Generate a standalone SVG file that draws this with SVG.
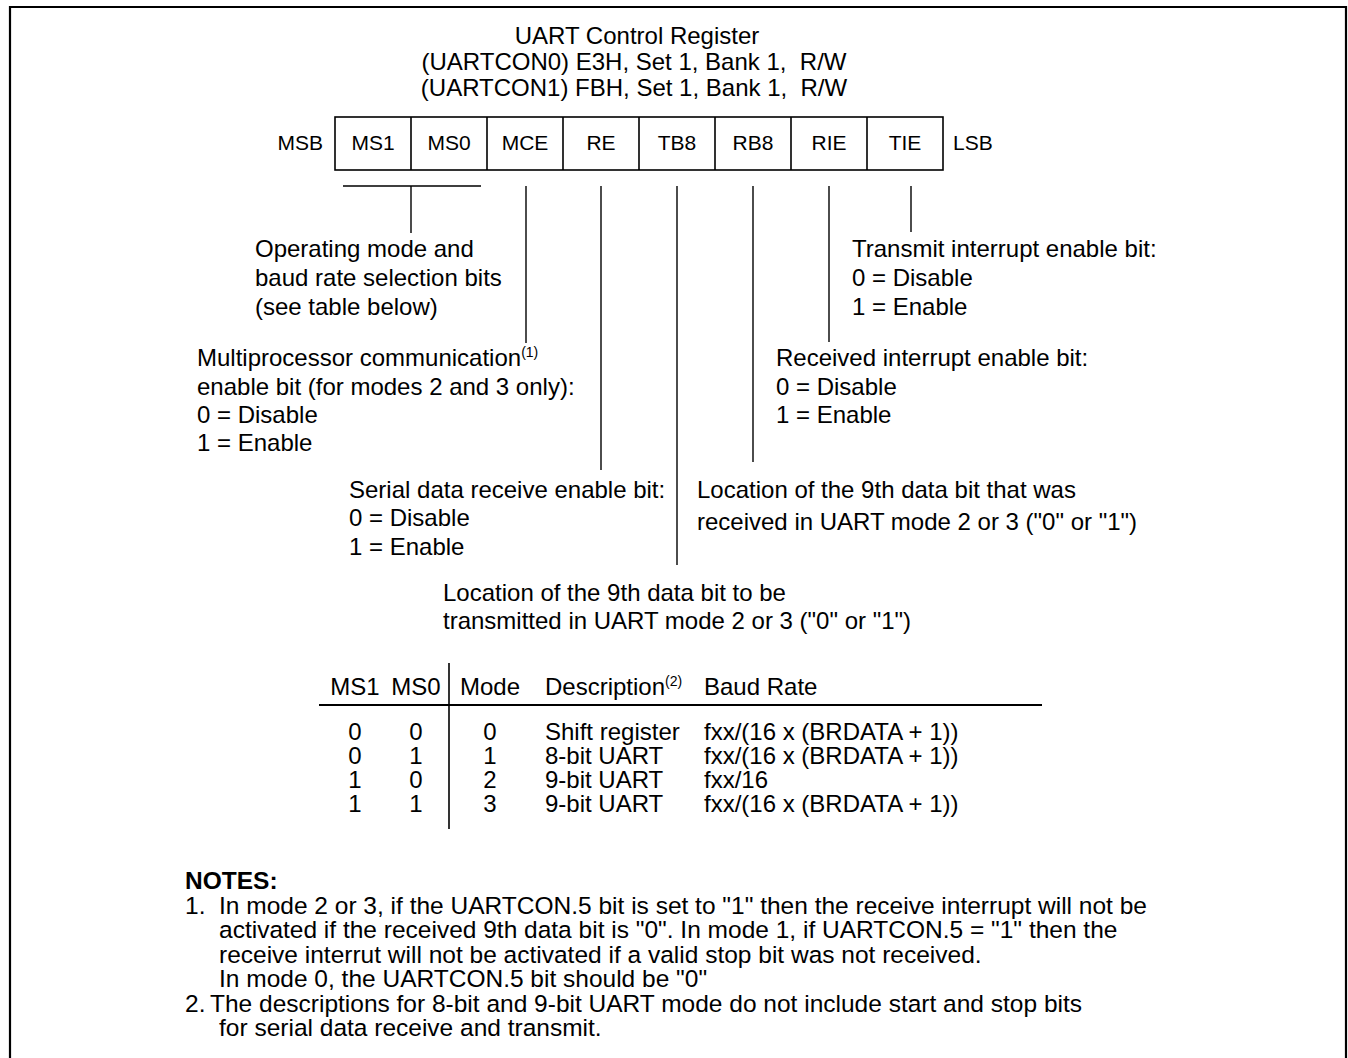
<svg xmlns="http://www.w3.org/2000/svg" width="1348" height="1058" viewBox="0 0 1348 1058">
<style>
text{font-family:"Liberation Sans",Arial,sans-serif;fill:#000}
.t{font-size:24px}
.c{font-size:21px}
.n{font-size:24.5px}
.m{text-anchor:middle}
.e{text-anchor:end}
.sup{font-size:14px}
.ln{stroke:#000;stroke-width:1.4;fill:none}
.bx{stroke:#000;stroke-width:1.6;fill:none}
</style>
<rect width="1348" height="1058" fill="#fff"/>
<g id="frame"><path d="M10,1058 V7 H1346 V1058" fill="none" stroke="#000" stroke-width="2.2"/></g>
<g id="title">
<text class="t m" x="637" y="44">UART Control Register</text>
<text class="t m" x="634" y="70" xml:space="preserve">(UARTCON0) E3H, Set 1, Bank 1,  R/W</text>
<text class="t m" x="634" y="96" xml:space="preserve">(UARTCON1) FBH, Set 1, Bank 1,  R/W</text>
</g>
<g id="register">
<rect class="bx" x="335" y="117" width="608" height="53"/>
<path class="bx" d="M411,117V170M487,117V170M563,117V170M639,117V170M715,117V170M791,117V170M867,117V170"/>
<text class="c e" x="323" y="150">MSB</text>
<text class="c" x="953" y="150">LSB</text>
<text class="c m" x="373" y="150">MS1</text>
<text class="c m" x="449" y="150">MS0</text>
<text class="c m" x="525" y="150">MCE</text>
<text class="c m" x="601" y="150">RE</text>
<text class="c m" x="677" y="150">TB8</text>
<text class="c m" x="753" y="150">RB8</text>
<text class="c m" x="829" y="150">RIE</text>
<text class="c m" x="905" y="150">TIE</text>
</g>
<g id="connectors">
<path class="ln" d="M343,186H481M411,186V233"/>
<path class="ln" d="M526,186V343"/>
<path class="ln" d="M601,186V470"/>
<path class="ln" d="M677,186V565"/>
<path class="ln" d="M753,186V462"/>
<path class="ln" d="M829,186V342"/>
<path class="ln" d="M911,186V232"/>
</g>
<g id="ms-desc">
<text class="t" x="255" y="257">Operating mode and</text>
<text class="t" x="255" y="286">baud rate selection bits</text>
<text class="t" x="255" y="315">(see table below)</text>
</g>
<g id="mce-desc">
<text class="t" x="197" y="366">Multiprocessor communication<tspan class="sup" dy="-9">(1)</tspan></text>
<text class="t" x="197" y="395">enable bit (for modes 2 and 3 only):</text>
<text class="t" x="197" y="423">0 = Disable</text>
<text class="t" x="197" y="451">1 = Enable</text>
</g>
<g id="tie-desc">
<text class="t" x="852" y="257">Transmit interrupt enable bit:</text>
<text class="t" x="852" y="286">0 = Disable</text>
<text class="t" x="852" y="315">1 = Enable</text>
</g>
<g id="rie-desc">
<text class="t" x="776" y="366">Received interrupt enable bit:</text>
<text class="t" x="776" y="395">0 = Disable</text>
<text class="t" x="776" y="423">1 = Enable</text>
</g>
<g id="re-desc">
<text class="t" x="349" y="498">Serial data receive enable bit:</text>
<text class="t" x="349" y="526">0 = Disable</text>
<text class="t" x="349" y="555">1 = Enable</text>
</g>
<g id="rb8-desc">
<text class="t" x="697" y="498">Location of the 9th data bit that was</text>
<text class="t" x="697" y="530">received in UART mode 2 or 3 ("0" or "1")</text>
</g>
<g id="tb8-desc">
<text class="t" x="443" y="601">Location of the 9th data bit to be</text>
<text class="t" x="443" y="629">transmitted in UART mode 2 or 3 ("0" or "1")</text>
</g>
<g id="table">
<path d="M449,663V829" stroke="#000" stroke-width="1.6"/>
<path d="M319,705H1042" stroke="#000" stroke-width="2.2"/>
<text class="t m" x="355" y="695">MS1</text>
<text class="t m" x="416" y="695">MS0</text>
<text class="t m" x="490" y="695">Mode</text>
<text class="t" x="545" y="695">Description<tspan class="sup" dy="-9">(2)</tspan></text>
<text class="t" x="704" y="695">Baud Rate</text>
<text class="t m" x="355" y="740">0</text><text class="t m" x="416" y="740">0</text><text class="t m" x="490" y="740">0</text>
<text class="t m" x="355" y="764">0</text><text class="t m" x="416" y="764">1</text><text class="t m" x="490" y="764">1</text>
<text class="t m" x="355" y="788">1</text><text class="t m" x="416" y="788">0</text><text class="t m" x="490" y="788">2</text>
<text class="t m" x="355" y="812">1</text><text class="t m" x="416" y="812">1</text><text class="t m" x="490" y="812">3</text>
<text class="t" x="545" y="740">Shift register</text>
<text class="t" x="545" y="764">8-bit UART</text>
<text class="t" x="545" y="788">9-bit UART</text>
<text class="t" x="545" y="812">9-bit UART</text>
<text class="t" x="704" y="740">fxx/(16 x (BRDATA + 1))</text>
<text class="t" x="704" y="764">fxx/(16 x (BRDATA + 1))</text>
<text class="t" x="704" y="788">fxx/16</text>
<text class="t" x="704" y="812">fxx/(16 x (BRDATA + 1))</text>
</g>
<g id="notes">
<text class="n" x="185" y="889" font-weight="bold">NOTES:</text>
<text class="n" x="185" y="914">1.</text>
<text class="n" x="219" y="914">In mode 2 or 3, if the UARTCON.5 bit is set to "1" then the receive interrupt will not be</text>
<text class="n" x="219" y="938">activated if the received 9th data bit is "0". In mode 1, if UARTCON.5 = "1" then the</text>
<text class="n" x="219" y="963">receive interrut will not be activated if a valid stop bit was not received.</text>
<text class="n" x="219" y="987">In mode 0, the UARTCON.5 bit should be "0"</text>
<text class="n" x="185" y="1012">2.</text>
<text class="n" x="210" y="1012">The descriptions for 8-bit and 9-bit UART mode do not include start and stop bits</text>
<text class="n" x="219" y="1036">for serial data receive and transmit.</text>
</g>
</svg>
